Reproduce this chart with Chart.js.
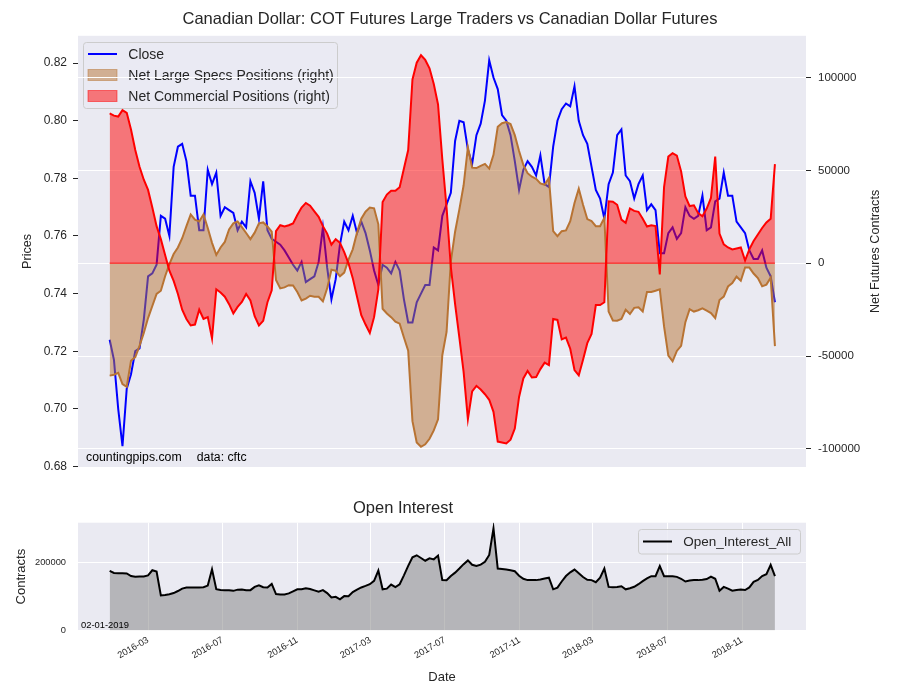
<!DOCTYPE html>
<html>
<head>
<meta charset="utf-8">
<script src="https://cdn.jsdelivr.net/npm/chart.js@4.4.0/dist/chart.umd.min.js"></script>
<style>
  body { margin: 0; background: #fff; }
  #wrap { position: relative; width: 900px; height: 700px; }
  canvas { position: absolute; left: 0; }
  #top { top: 0; }
  #bottom { top: 490px; }
</style>
</head>
<body>
<div id="wrap">
  <canvas id="top" width="900" height="490"></canvas>
  <canvas id="bottom" width="900" height="210"></canvas>
</div>
<script>
// weekly COT reports, first one on 2015-12-29
var firstWeek = Date.UTC(2015, 11, 29);

var closePrice = [
  0.724, 0.717, 0.700, 0.687, 0.707, 0.712, 0.720, 0.721, 0.731, 0.746,
  0.747, 0.750, 0.767, 0.766, 0.760, 0.784, 0.791, 0.792, 0.786, 0.774,
  0.774, 0.762, 0.762, 0.783, 0.778, 0.782, 0.767, 0.770, 0.769, 0.768,
  0.762, 0.765, 0.763, 0.779, 0.775, 0.766, 0.779, 0.762, 0.759, 0.758,
  0.757, 0.755, 0.7525, 0.750, 0.748, 0.751, 0.744, 0.745, 0.746, 0.751,
  0.763, 0.749, 0.738, 0.745, 0.757, 0.765, 0.762, 0.767, 0.761, 0.765,
  0.761, 0.755, 0.748, 0.743, 0.750, 0.749, 0.747, 0.751, 0.748, 0.738,
  0.730, 0.730, 0.737, 0.740, 0.743, 0.743, 0.756, 0.755, 0.767, 0.771,
  0.775, 0.793, 0.800, 0.7995, 0.790, 0.785, 0.795, 0.799, 0.807, 0.821,
  0.815, 0.811, 0.802, 0.800, 0.795, 0.786, 0.776, 0.783, 0.786, 0.784,
  0.781, 0.788, 0.778, 0.777, 0.791, 0.800, 0.804, 0.806, 0.805, 0.812,
  0.800, 0.795, 0.792, 0.784, 0.776, 0.773, 0.766, 0.778, 0.782, 0.795,
  0.797, 0.781, 0.779, 0.773, 0.778, 0.781, 0.769, 0.771, 0.769, 0.754,
  0.754, 0.761, 0.763, 0.759, 0.761, 0.770, 0.767, 0.766, 0.767, 0.774,
  0.762, 0.763, 0.772, 0.773, 0.782, 0.774, 0.774, 0.765, 0.763, 0.761,
  0.755, 0.752, 0.752, 0.755, 0.749, 0.746, 0.737
];

var netLargeSpecs = [
  -60500, -60000, -59000, -65000, -66500, -52500, -50500, -44500, -37500, -29500,
  -23000, -16500, -14800, -7000, -500, 5000, 8500, 13500, 20000, 26300,
  23500, 22500, 26300, 19000, 11000, 4500, 8500, 11500, 18200, 21500,
  22500, 19500, 16300, 13000, 16500, 21500, 22000, 19800, 17000, -9000,
  -13500, -13000, -11800, -12000, -15500, -20000, -19000, -17500, -18000, -18000,
  -20500, -13500, -3500, -4000, -7000, -5000, 2000, 7500, 16500, 24000,
  27800, 30000, 29600, 21000, -24500, -27000, -29000, -31500, -32500, -40000,
  -47000, -85000, -96500, -98800, -97500, -94500, -90000, -84000, -49500, -37000,
  1000, 17000, 29000, 42000, 62500, 51500, 51300, 52500, 53500, 51000,
  58400, 73500, 75400, 76000, 75000, 69000, 60500, 53000, 48500, 46600,
  45500, 43000, 42300, 46000, 17300, 14600, 17300, 17700, 22700, 32500,
  40200, 31500, 23800, 22700, 20000, 20000, 24500, -26000, -30800, -30900,
  -30000, -25000, -27300, -24000, -23700, -26000, -15400, -15400, -14800, -14000,
  -34000, -49700, -52800, -47200, -44500, -31700, -24700, -26000, -25300, -24300,
  -25500, -26800, -29500, -19800, -17900, -12500, -10700, -7200, -9400, -2300,
  -2300, -5500, -8000, -12400, -11500, -7800, -44600
];

var netCommercial = [
  80700, 79500, 79000, 82500, 81000, 72000, 61000, 52000, 45000, 39500,
  30000, 20000, 13000, 4500, -4000, -9500, -16500, -25000, -30000, -33500,
  -33000, -25000, -30000, -29000, -40500, -14000, -15700, -18000, -22000, -27000,
  -23500, -20800, -16500, -20000, -28500, -33500, -31000, -21000, -14500, 17300,
  20500, 19800, 20500, 21500, 26000, 30000, 32500, 31000, 28000, 25000,
  20000, 16000, 10000, 13000, 11000, 6000, 0, -8000, -18000, -28000,
  -33000, -37500, -29000, -14000, 33000, 37000, 39000, 39000, 41000, 51000,
  61000, 99000, 108000, 112000, 109500, 105000, 96500, 85500, 56000, 30000,
  -2000, -22000, -40000, -58600, -84000, -69000, -66000, -68000, -70500, -73500,
  -80000, -96000, -96500, -97000, -95000, -89000, -72000, -62000, -58000, -61500,
  -61300, -57000, -53500, -54800, -30000, -30500, -41000, -40000, -46000, -57500,
  -60300, -52000, -43000, -38000, -22500, -22500, -21000, 33400, 33200, 31500,
  23500, 21800, 29500, 28200, 27700, 24000, 19800, 20500, 20000, -6000,
  41000, 57500, 59300, 58000, 49500, 36000, 30800, 31200, 27000, 25300,
  29500, 35200, 57500, 16000, 10200, 8500, 7500, 8000, 8500, 1500,
  7500, 12000, 15500, 19000, 22000, 24000, 53400
];

var openInterest = [
  175000, 169000, 168000, 168000, 167500, 160000, 158000, 159000, 159000, 162000,
  177000, 173000, 103000, 104000, 106500, 110000, 116000, 123000, 126000, 126500,
  126500, 126500, 127000, 132000, 180000, 121500, 119000, 118000, 118500, 116500,
  120000, 120500, 118500, 118500, 128000, 133000, 127000, 126500, 137000, 107000,
  106000, 106000, 109000, 115000, 121000, 121000, 124000, 122000, 118000, 114000,
  118500, 110000, 97000, 99000, 91500, 101000, 100500, 113000, 120000, 126500,
  131000, 136000, 146000, 176000, 121000, 123000, 135000, 127500, 136000, 162000,
  190000, 215000, 221000, 213000, 205000, 212000, 209000, 220000, 148000, 147500,
  160000, 170000, 182000, 195000, 206000, 193000, 189500, 193500, 202000, 222000,
  300000, 182000, 181000, 179000, 177000, 174000, 161000, 152000, 148000, 148000,
  148000, 150000, 153000, 155000, 121000, 126000, 144000, 160000, 171000, 179000,
  168500, 157000, 149000, 148000, 142000, 155000, 182000, 128000, 127000, 127500,
  130000, 121000, 124000, 128500, 136000, 145000, 153000, 159700, 159700, 189000,
  159700, 159700, 159700, 157500, 152000, 144000, 147000, 148000, 148000, 149000,
  151000, 158500, 152000, 117000, 128000, 123000, 117000, 119000, 120500, 119000,
  126500, 143000, 148500, 160000, 165500, 193000, 159700
];

var priceTicks = [0.68, 0.70, 0.72, 0.74, 0.76, 0.78, 0.80, 0.82];
var netTicks = [-100000, -50000, 0, 50000, 100000];
var oiTicks = [0, 200000];
var dateTicks = ['2016-03', '2016-07', '2016-11', '2017-03', '2017-07', '2017-11', '2018-03', '2018-07', '2018-11'];

var DAY = 86400000;
var weeks = closePrice.map(function(v, i) { return firstWeek + i * 7 * DAY; });
function pts(arr) {
  return arr.map(function(v, i) { return {x: weeks[i], y: v}; });
}
function monthValue(s) {
  var p = s.split('-');
  return Date.UTC(+p[0], +p[1] - 1, 1);
}
function monthLabel(v) {
  var d = new Date(v);
  return d.getUTCFullYear() + '-' + String(d.getUTCMonth() + 1).padStart(2, '0');
}
function setTicks(list) {
  return function(axis) {
    axis.ticks = list.map(function(v) { return {value: v}; });
  };
}

var xMin = Date.UTC(2015, 10, 7);
var xMax = Date.UTC(2019, 1, 14);
var font = "'Liberation Sans', Arial, sans-serif";
var ink = '#262626';
var panelBg = '#eaeaf2';
var specsLine = '#b87333', specsFill = 'rgba(184,115,51,0.5)';
var commLine = '#ff0000', commFill = 'rgba(255,0,0,0.5)';

function fillPanel(chart) {
  var a = chart.chartArea, c = chart.ctx;
  c.save();
  c.fillStyle = panelBg;
  c.fillRect(a.left, a.top, a.right - a.left, a.bottom - a.top);
  c.restore();
}
function legendFrame(c, x, y, w, h) {
  c.beginPath();
  c.roundRect(x, y, w, h, 3);
  c.fillStyle = 'rgba(234,234,242,0.8)';
  c.fill();
  c.strokeStyle = '#cccccc';
  c.lineWidth = 1;
  c.stroke();
}

// top panel: background + legend go under the grid, like the twin axis in the original
var topDecor = {
  id: 'topDecor',
  beforeDraw: function(chart) {
    fillPanel(chart);
    var c = chart.ctx;
    c.save();
    legendFrame(c, 83.5, 42.5, 254, 66);
    var rowY = [54, 75, 96];
    chart.data.datasets.forEach(function(ds, i) {
      if (!ds.label) return;
      var y = rowY[i];
      if (ds.fill) {
        c.fillStyle = ds.backgroundColor;
        c.fillRect(88, y - 5.5, 29, 11);
        c.strokeStyle = ds.backgroundColor;
        c.lineWidth = 1;
        c.strokeRect(88, y - 5.5, 29, 11);
      } else {
        c.strokeStyle = ds.borderColor;
        c.lineWidth = 2;
        c.beginPath();
        c.moveTo(88, y);
        c.lineTo(117, y);
        c.stroke();
      }
      c.fillStyle = ink;
      c.font = '14px ' + font;
      c.textBaseline = 'middle';
      c.textAlign = 'left';
      c.fillText(ds.label, 128.3, y + 1);
    });
    c.restore();
  },
  afterDatasetsDraw: function(chart) {
    var c = chart.ctx;
    c.save();
    c.fillStyle = '#000';
    c.font = '12.3px ' + font;
    c.textBaseline = 'middle';
    c.textAlign = 'left';
    c.fillText('countingpips.com', 86, 458);
    var w = c.measureText('countingpips.com').width;
    c.fillText('data: cftc', 86 + w + 15, 458);
    c.restore();
  },
  afterDraw: function(chart) {
    var c = chart.ctx, a = chart.chartArea;
    c.save();
    c.translate(876, (a.top + a.bottom) / 2);
    c.rotate(-Math.PI / 2);
    c.fillStyle = ink;
    c.font = '12.6px ' + font;
    c.textAlign = 'center';
    c.textBaseline = 'middle';
    c.fillText('Net Futures Contracts', 0, 0);
    c.restore();
  }
};

var ctx = document.getElementById('top').getContext('2d');
var chart = new Chart(ctx, {
  type: 'line',
  data: {
    datasets: [{
      label: 'Close',
      data: pts(closePrice),
      yAxisID: 'price',
      borderColor: '#0000ff',
      borderWidth: 2,
      pointRadius: 0,
      fill: false,
      order: 3
    }, {
      label: 'Net Large Specs Positions (right)',
      data: pts(netLargeSpecs),
      yAxisID: 'net',
      borderColor: specsLine,
      backgroundColor: specsFill,
      borderWidth: 2,
      pointRadius: 0,
      fill: 'origin',
      order: 2
    }, {
      label: 'Net Commercial Positions (right)',
      data: pts(netCommercial),
      yAxisID: 'net',
      borderColor: commLine,
      backgroundColor: commFill,
      borderWidth: 2,
      pointRadius: 0,
      fill: 'origin',
      order: 1
    }, {
      label: '',
      data: [{x: weeks[0], y: 0}, {x: weeks[weeks.length - 1], y: 0}],
      yAxisID: 'net',
      borderColor: 'rgba(255,0,0,0.6)',
      borderWidth: 1.5,
      pointRadius: 0,
      fill: false,
      order: 0
    }]
  },
  options: {
    responsive: false,
    animation: false,
    devicePixelRatio: 1,
    events: [],
    layout: {padding: {left: 0, right: 0, top: 0, bottom: 23}},
    plugins: {
      legend: {display: false},
      tooltip: {enabled: false},
      title: {
        display: true,
        text: 'Canadian Dollar: COT Futures Large Traders vs Canadian Dollar Futures',
        color: ink,
        font: {family: font, size: 16.5, weight: 'normal'},
        padding: {top: 10, bottom: 6}
      }
    },
    scales: {
      x: {type: 'linear', min: xMin, max: xMax, display: false},
      price: {
        type: 'linear',
        position: 'left',
        min: 0.6798,
        max: 0.8295,
        afterBuildTicks: setTicks(priceTicks),
        afterFit: function(s) { s.width = 78; },
        grid: {drawOnChartArea: false, tickLength: 5, tickColor: ink},
        border: {display: false},
        ticks: {
          color: ink,
          font: {family: font, size: 12},
          padding: 6,
          callback: function(v) { return v.toFixed(2); }
        },
        title: {display: true, text: 'Prices', color: ink, font: {family: font, size: 12.6}, padding: {top: 20}}
      },
      net: {
        type: 'linear',
        position: 'right',
        min: -109700,
        max: 122500,
        afterBuildTicks: setTicks(netTicks),
        afterFit: function(s) { s.width = 94; },
        grid: {color: '#ffffff', lineWidth: 1, tickLength: 5, tickColor: ink},
        border: {display: false},
        ticks: {
          color: ink,
          font: {family: font, size: 11.5},
          padding: 7,
          callback: function(v) { return String(v); }
        }
      }
    }
  },
  plugins: [topDecor]
});

// open interest panel
var bottomDecor = {
  id: 'bottomDecor',
  beforeDraw: function(chart) { fillPanel(chart); },
  afterDatasetsDraw: function(chart) {
    var c = chart.ctx;
    c.save();
    c.fillStyle = '#000';
    c.font = '9.4px ' + font;
    c.textBaseline = 'middle';
    c.textAlign = 'left';
    c.fillText('02-01-2019', 81, 135);
    c.restore();
  },
  afterDraw: function(chart) {
    var c = chart.ctx;
    var ds = chart.data.datasets[0];
    c.save();
    legendFrame(c, 638.5, 39.5, 162, 24.5);
    c.strokeStyle = ds.borderColor;
    c.lineWidth = 2;
    c.beginPath();
    c.moveTo(643, 51.5);
    c.lineTo(672, 51.5);
    c.stroke();
    c.fillStyle = ink;
    c.font = '13.5px ' + font;
    c.textBaseline = 'middle';
    c.textAlign = 'left';
    c.fillText(ds.label, 683.3, 52);
    c.restore();
  }
};

var ctx = document.getElementById('bottom').getContext('2d');
var chart = new Chart(ctx, {
  type: 'line',
  data: {
    datasets: [{
      label: 'Open_Interest_All',
      data: pts(openInterest),
      borderColor: '#000000',
      backgroundColor: 'rgba(128,128,128,0.5)',
      borderWidth: 2,
      pointRadius: 0,
      fill: 'origin'
    }]
  },
  options: {
    responsive: false,
    animation: false,
    devicePixelRatio: 1,
    events: [],
    layout: {padding: {left: 0, right: 94, top: 0, bottom: 0}},
    plugins: {
      legend: {display: false},
      tooltip: {enabled: false},
      title: {
        display: true,
        text: 'Open Interest',
        color: ink,
        font: {family: font, size: 16.5, weight: 'normal'},
        padding: {top: 8.5, bottom: 4.4}
      }
    },
    scales: {
      x: {
        type: 'linear',
        min: xMin,
        max: xMax,
        afterBuildTicks: setTicks(dateTicks.map(monthValue)),
        afterFit: function(s) { s.height = 69.5; },
        grid: {color: '#ffffff', drawTicks: false},
        border: {display: false},
        ticks: {
          color: ink,
          font: {family: font, size: 9.3},
          minRotation: 30,
          maxRotation: 30,
          padding: 4,
          callback: function(v) { return monthLabel(v); }
        },
        title: {display: true, text: 'Date', color: ink, font: {family: font, size: 13}, padding: {top: 0, bottom: 15}}
      },
      y: {
        min: 0,
        max: 316700,
        afterBuildTicks: setTicks(oiTicks),
        afterFit: function(s) { s.width = 78; },
        grid: {color: '#ffffff', drawTicks: false},
        border: {display: false},
        ticks: {
          color: ink,
          font: {family: font, size: 9.3},
          padding: 12,
          callback: function(v) { return String(v); }
        },
        title: {display: true, text: 'Contracts', color: ink, font: {family: font, size: 13}, padding: {top: 14}}
      }
    }
  },
  plugins: [bottomDecor]
});
</script>
</body>
</html>
